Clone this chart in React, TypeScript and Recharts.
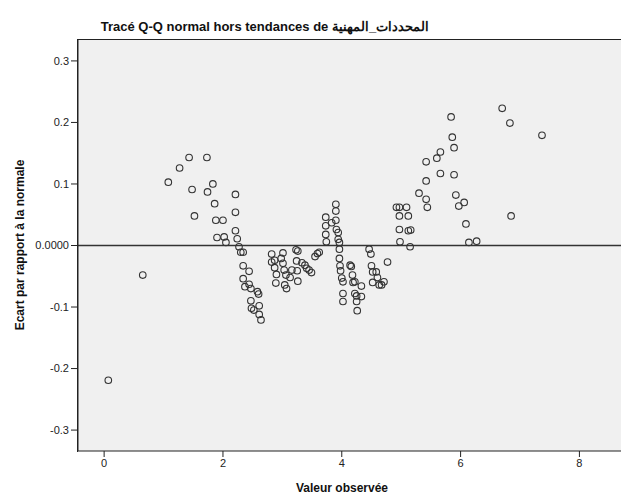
import { ScatterChart, Scatter, XAxis, YAxis, CartesianGrid, ReferenceLine } from 'recharts';

const observed = [
  0.07, 0.65, 1.08, 1.27, 1.43, 1.48, 1.52, 1.73, 1.74, 1.83, 1.86, 1.88, 1.9, 2.0, 2.02, 2.05,
  2.21, 2.21, 2.21, 2.24, 2.27, 2.3, 2.34, 2.34, 2.44, 2.34, 2.44, 2.37, 2.47, 2.58, 2.6, 2.47,
  2.61, 2.48, 2.52, 2.61, 2.64,
  2.82, 3.01, 2.82, 2.87, 2.98, 2.87, 3.01, 2.9, 3.03, 2.89, 3.06, 3.04, 3.07, 3.13, 3.16, 3.23,
  3.24, 3.25, 3.26, 3.33, 3.38, 3.41, 3.45, 3.49, 3.55, 3.59, 3.62, 3.26,
  3.73, 3.73, 3.73, 3.74, 3.83, 3.9, 3.9, 3.9, 3.91, 3.94, 3.94, 3.96, 3.96, 3.96, 3.97, 3.98,
  4.0, 4.02, 4.02, 4.02, 4.14, 4.16, 4.18, 4.19, 4.22, 4.22, 4.25, 4.25, 4.26, 4.33, 4.33,
  4.46, 4.49, 4.5, 4.52, 4.58, 4.52, 4.6, 4.63, 4.67, 4.71, 4.77,
  4.92, 4.97, 5.09, 4.97, 5.12, 4.97, 5.12, 5.16, 4.98, 5.15, 5.3, 5.42, 5.44, 5.42, 5.42, 5.6,
  5.66, 5.66, 5.84, 5.86, 5.89, 5.89, 5.92, 6.06, 5.97, 6.09, 6.14, 6.27, 6.7, 6.83, 6.85, 7.37,
];

const deviation = [
  -0.219, -0.048, 0.103, 0.126, 0.143, 0.091, 0.048, 0.143, 0.087, 0.1, 0.068, 0.041, 0.013, 0.041, 0.014, 0.005,
  0.083, 0.054, 0.024, 0.011, -0.002, -0.011, -0.011, -0.033, -0.042, -0.054, -0.063, -0.067, -0.07, -0.075, -0.079, -0.09,
  -0.098, -0.102, -0.105, -0.112, -0.121,
  -0.014, -0.012, -0.027, -0.024, -0.021, -0.036, -0.029, -0.047, -0.04, -0.061, -0.048, -0.064, -0.07, -0.052, -0.04, -0.007,
  -0.025, -0.041, -0.058, -0.028, -0.032, -0.037, -0.04, -0.044, -0.018, -0.013, -0.011, -0.009,
  0.046, 0.032, 0.018, 0.006, 0.037, 0.067, 0.056, 0.041, 0.026, 0.021, 0.01, 0.005, -0.006, -0.021, -0.033, -0.041,
  -0.053, -0.059, -0.078, -0.091, -0.032, -0.034, -0.048, -0.06, -0.059, -0.078, -0.082, -0.091, -0.106, -0.066, -0.083,
  -0.006, -0.014, -0.033, -0.043, -0.043, -0.06, -0.052, -0.064, -0.064, -0.059, -0.027,
  0.062, 0.062, 0.062, 0.048, 0.048, 0.026, 0.024, 0.025, 0.006, -0.002, 0.085, 0.075, 0.062, 0.105, 0.136, 0.142,
  0.152, 0.117, 0.209, 0.176, 0.159, 0.115, 0.082, 0.07, 0.064, 0.035, 0.005, 0.007, 0.223, 0.199, 0.048, 0.179,
];

const xTicks = [0, 2, 4, 6, 8];
const yTicks = [-0.3, -0.2, -0.1, 0, 0.1, 0.2, 0.3];

const points = observed.map((x, i) => ({ x, y: deviation[i] }));

const FONT = '"Liberation Sans", Arial, sans-serif';

const HollowDot = (props: any) => (
  <circle cx={props.cx} cy={props.cy} r={3.3} fill="none" stroke="#333" strokeWidth={1.1} />
);

export default function App() {
  return (
    <div style={{ position: 'absolute', left: 0, top: 0, width: 621, height: 495, background: '#fff', fontFamily: FONT }}>
      {/* Titre */}
      <div
        style={{
          position: 'absolute', left: 0, width: 530, top: 19, textAlign: 'center',
          fontSize: 13, fontWeight: 'bold', color: '#111', whiteSpace: 'nowrap',
        }}
      >
        Tracé Q-Q normal hors tendances de المحددات_المهنية
      </div>

      <ScatterChart width={621} height={495} margin={{ top: 40, right: 0, bottom: 0, left: 0 }}>
        <CartesianGrid horizontal={false} vertical={false} fill="#f0f0f0" />
        <XAxis
          type="number"
          dataKey="x"
          domain={[-0.44, 8.7]}
          ticks={xTicks}
          allowDataOverflow
          height={44}
          tickSize={6}
          stroke="#222"
          tick={{ fill: '#222', fontSize: 11, fontFamily: FONT }}
          tickLine={{ stroke: '#222' }}
        />
        <YAxis
          type="number"
          dataKey="y"
          domain={[-0.334, 0.334]}
          ticks={yTicks}
          allowDataOverflow
          width={78}
          tickSize={7}
          stroke="#222"
          tick={{ fill: '#222', fontSize: 11, fontFamily: FONT }}
          tickLine={{ stroke: '#222' }}
          tickFormatter={(v: number) => (v === 0 ? '0.0000' : v.toFixed(1))}
        />
        <ReferenceLine y={0} stroke="#333" strokeWidth={1.5} />
        <Scatter data={points} shape={HollowDot} isAnimationActive={false} />
      </ScatterChart>

      {/* cadre de la zone de tracé */}
      <div
        style={{
          position: 'absolute', left: 77, top: 39, width: 544, height: 412,
          borderTop: '1px solid #222', borderLeft: '1px solid #222', pointerEvents: 'none',
        }}
      />

      {/* Titres des axes */}
      <div
        style={{
          position: 'absolute', left: 78, width: 528, top: 481, textAlign: 'center',
          fontSize: 12, fontWeight: 'bold', color: '#111',
        }}
      >
        Valeur observée
      </div>
      <div
        style={{
          position: 'absolute', left: 20, top: 245, transform: 'translate(-50%, -50%) rotate(-90deg)',
          fontSize: 12, fontWeight: 'bold', color: '#111', whiteSpace: 'nowrap',
        }}
      >
        Ecart par rapport à la normale
      </div>
    </div>
  );
}
